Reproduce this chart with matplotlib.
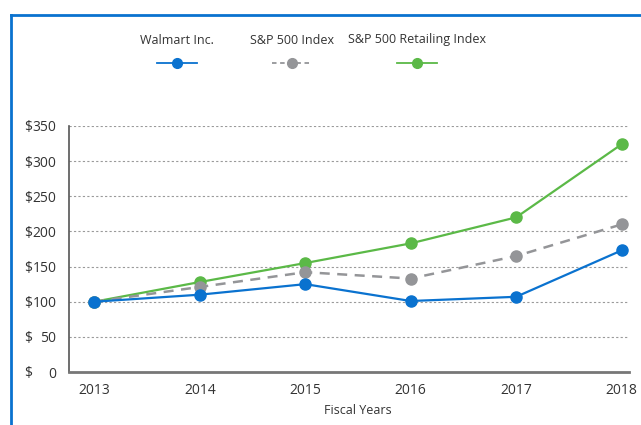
import matplotlib
matplotlib.use("Agg")
import matplotlib.pyplot as plt
from matplotlib.lines import Line2D
from matplotlib.transforms import blended_transform_factory

plt.rcParams['font.family'] = ['Open Sans', 'DejaVu Sans']

years = [2013, 2014, 2015, 2016, 2017, 2018]
walmart = [100, 110, 125, 101, 107, 173]
sp500 = [100, 121, 142, 133, 165, 210]
retailing = [100, 128, 155, 183, 220, 324]
series_names = ["Walmart Inc.", "S&P 500 Index", "S&P 500 Retailing Index"]
yticks = [0, 50, 100, 150, 200, 250, 300, 350]

BLUE = "#0a72cf"
GRAY = "#949598"
GREEN = "#5bb947"
TXT = "#333333"

W, H = 641, 425
fig = plt.figure(figsize=(W / 100, H / 100), dpi=100)
ax = fig.add_axes([69 / W, 1 - 372 / H, 560 / W, (372 - 126) / H])

ax.plot(years, retailing, color=GREEN, lw=1.6, marker='o', ms=8, zorder=3)
ax.plot(years, sp500, color=GRAY, lw=1.8, ls=(0, (4, 3)), marker='o', ms=8, zorder=4)
ax.plot(years, walmart, color=BLUE, lw=1.6, marker='o', ms=8, zorder=5)

ax.set_xlim(2012.76, 2018.07)
ax.set_ylim(0, 350)
ax.set_xticks(years)
ax.set_xticklabels([str(y) for y in years], fontsize=10, color=TXT)
ax.set_yticks(yticks)
ax.set_yticklabels([str(v) for v in yticks], fontsize=10, color=TXT)
ax.tick_params(axis='both', length=0)
ax.tick_params(axis='y', pad=9)
ax.tick_params(axis='x', pad=8)
tr = blended_transform_factory(fig.transFigure, ax.transData)
for v in yticks:
    ax.text(24 / W, v, "$", transform=tr, ha='left', va='center_baseline',
            fontsize=10, color=TXT)

for v in yticks[1:]:
    ax.axhline(v, color="#9a9a9a", lw=0.8, ls=(0, (2, 2)), zorder=1)

for s in ['top', 'right']:
    ax.spines[s].set_visible(False)
ax.spines['left'].set_color("#555555")
ax.spines['bottom'].set_color("#777777")
ax.spines['left'].set_linewidth(1.2)
ax.spines['bottom'].set_linewidth(2)

fig.text(358 / W, 1 - 411 / H, "Fiscal Years", ha='center', va='center', fontsize=9, color=TXT)

# legend
leg = [(176.5, BLUE, '-'), (292, GRAY, (0, (2.5, 2))), (417, GREEN, '-')]
for name, (cx, col, ls) in zip(series_names, leg):
    fig.text(cx / W, 1 - 40 / H, name, ha='center', va='center', fontsize=9, color=TXT)
    fig.add_artist(Line2D([(cx - 20) / W, (cx + 20) / W], [1 - 62.5 / H] * 2,
                          transform=fig.transFigure, color=col, lw=1.3, ls=ls))
    fig.add_artist(Line2D([cx / W], [1 - 62.5 / H], transform=fig.transFigure,
                          color=col, marker='o', ms=7, ls='none'))

# frame
fig.add_artist(Line2D([11 / W, 1.0], [1 - 15 / H] * 2, transform=fig.transFigure, color=BLUE, lw=2))
fig.add_artist(Line2D([11 / W, 11 / W], [1 - 15 / H, 0], transform=fig.transFigure, color=BLUE, lw=2))

fig.savefig("out.png", dpi=100)
